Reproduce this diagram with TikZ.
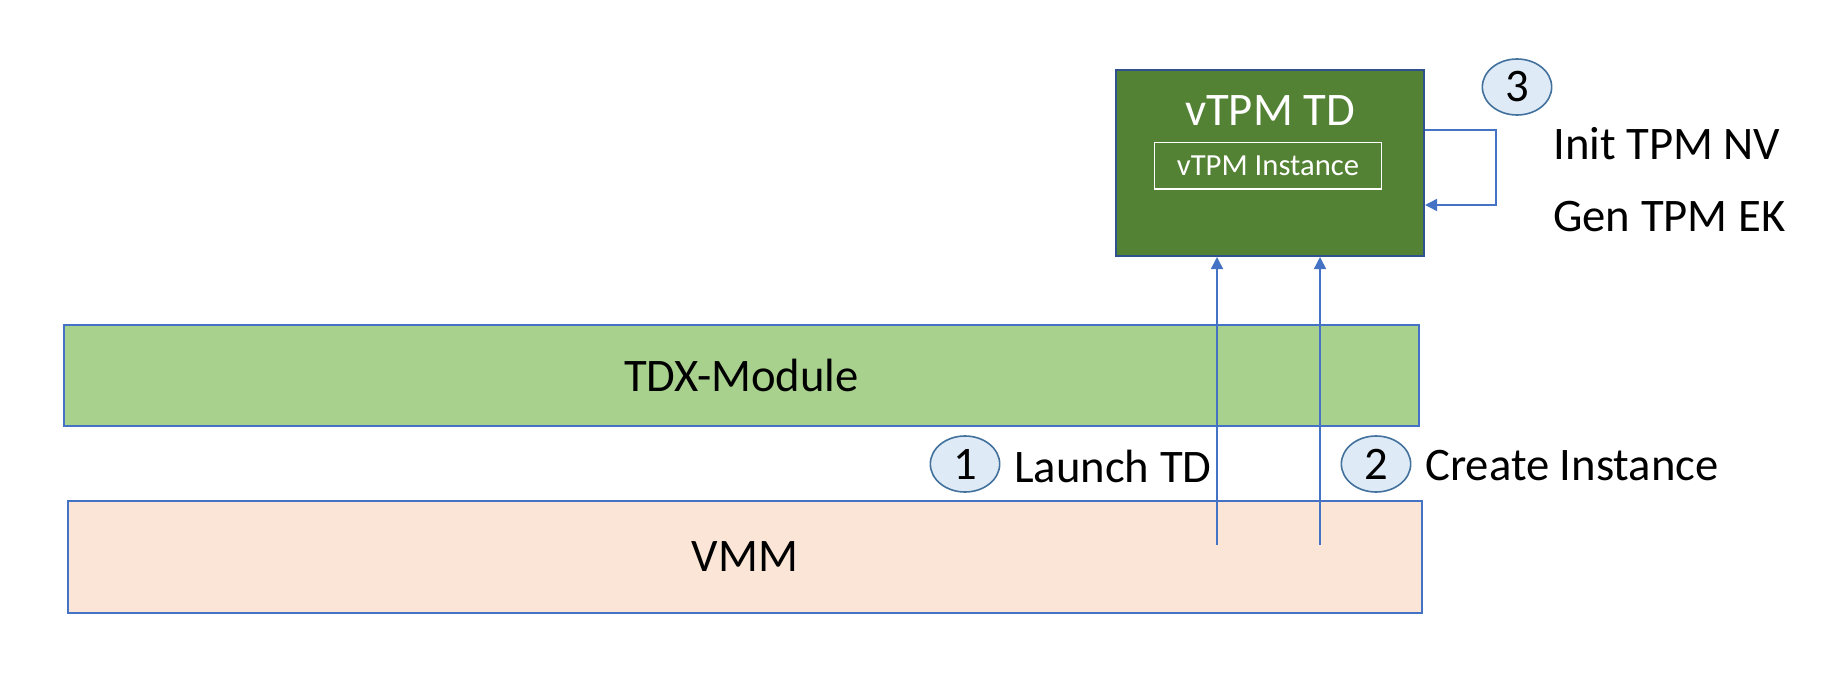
\documentclass[tikz,border=0pt]{standalone}
\usepackage{fontspec}
\setmainfont{Carlito}
\usetikzlibrary{arrows.meta,shapes.geometric}

\definecolor{tdgreen}{HTML}{548235}
\definecolor{tdxgreen}{HTML}{A9D18E}
\definecolor{vmmpink}{HTML}{FBE5D6}
\definecolor{edgeblue}{HTML}{4472C4}
\definecolor{darkedge}{HTML}{2F528F}
\definecolor{stepfill}{HTML}{DEEBF7}
\definecolor{stepedge}{HTML}{41719C}

\tikzset{
    layer/.style={draw=edgeblue, line width=1.5pt, inner sep=0pt},
    stepno/.style={ellipse, draw=stepedge, fill=stepfill, line width=1.2pt,
        minimum width=52pt, minimum height=42pt, inner sep=0pt,
        font=\fontsize{35}{40}\selectfont},
    note/.style={anchor=west, inner sep=0pt, font=\fontsize{35}{40}\selectfont},
    flow/.style={draw=edgeblue, line width=1.1pt,
        -{Triangle[width=9pt,length=9pt]}}
}

\begin{document}
\begin{tikzpicture}[x=0.75pt,y=-0.75pt]
\useasboundingbox (0,0) rectangle (1827,674);

% layers
\node (tdx) [layer, fill=tdxgreen, minimum width=1016pt, minimum height=76pt,
    font=\fontsize{35}{40}\selectfont] at (741.5,375.5) {TDX-Module};
\node (vmm) [layer, fill=vmmpink, minimum width=1015.5pt, minimum height=84pt,
    font=\fontsize{35}{40}\selectfont] at (745,557) {VMM};

% vTPM TD
\node (td) [layer, draw=darkedge, fill=tdgreen, minimum width=231pt,
    minimum height=139.5pt] at (1270,163) {};
\node (tdname) [white, inner sep=0pt, font=\fontsize{35}{40}\selectfont]
    at (1270,111) {vTPM TD};
\node (inst) [draw=white, line width=1pt, white, inner sep=0pt,
    minimum width=170pt, minimum height=35pt,
    font=\fontsize{23}{28}\selectfont] at (1268,165.5) {vTPM Instance};

% steps
\node (n1) [stepno] at (965,464) {1};
\node (l1) [note] at (1014,466) {Launch TD};
\node (n2) [stepno] at (1376,464) {2};
\node (l2) [note] at (1425,466) {Create Instance};
\node (n3) [stepno] at (1517,87) {3};
\node (l3a) [note] at (1553,144) {Init TPM NV};
\node (l3b) [note] at (1553,217) {Gen TPM EK};

% arrows
\coordinate (s1) at (1217,545);
\coordinate (s2) at (1320,545);
\draw[flow] (s1) -- (s1 |- td.south);
\draw[flow] (s2) -- (s2 |- td.south);
\draw[flow] ([yshift=24.75pt]td.east) -- ++(71,0)
    |- ([yshift=-31.5pt]td.east);
\end{tikzpicture}
\end{document}
